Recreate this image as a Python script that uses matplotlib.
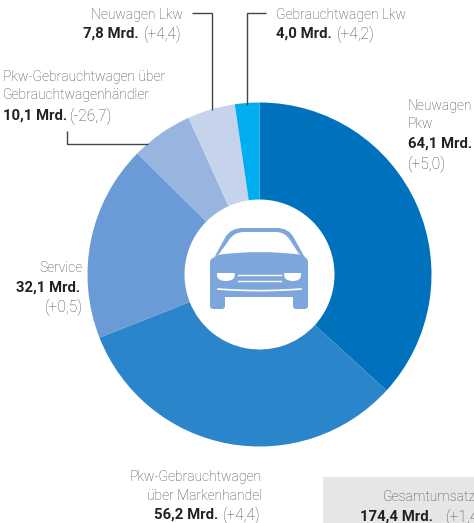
import matplotlib
matplotlib.use("Agg")
import matplotlib.pyplot as plt
from matplotlib.patches import PathPatch, Rectangle
from matplotlib.path import Path

categories = ["Neuwagen Pkw", "Pkw-Gebrauchtwagen über Markenhandel", "Service",
              "Pkw-Gebrauchtwagen über Gebrauchtwagenhändler", "Neuwagen Lkw", "Gebrauchtwagen Lkw"]
values = [64.1, 56.2, 32.1, 10.1, 7.8, 4.0]
colors = ["#0071BC", "#2B85CB", "#6A9BD6", "#97B5DE", "#C5D3EC", "#00AEEF"]

W, H = 474, 523
fig = plt.figure(figsize=(W/100, H/100), dpi=100, facecolor="white")

cx, cy, R, r = 259.5, 274.5, 172, 75
pa = fig.add_axes([(cx-R)/W, 1-(cy+R)/H, 2*R/W, 2*R/H])
pa.pie(values, colors=colors, startangle=90, counterclock=False, radius=1,
       wedgeprops=dict(width=1-r/R, linewidth=0))
pa.set_xlim(-1, 1); pa.set_ylim(-1, 1); pa.axis("off")

ax = fig.add_axes([0, 0, 1, 1], facecolor="none")
ax.set_xlim(0, W); ax.set_ylim(H, 0); ax.axis("off")

FONT = "Roboto"
GREY, DARK, LINE = "#4a4a4a", "#222222", "#444444"
FS = 10.0

def light(x, y, s, ha="left", size=FS):
    ax.text(x, y, s, ha=ha, va="center", family=FONT, weight="light", fontsize=size, color=GREY, clip_on=True)
def paren(x, y, s, ha="left"):
    light(x, y, s, ha, size=FS+1.2)
def bold(x, y, s, ha="left"):
    ax.text(x, y, s, ha=ha, va="center", family=FONT, weight="bold", fontsize=FS+0.7, color=DARK, clip_on=True)

light(183, 15, "Neuwagen Lkw", "right")
bold(139, 34, "7,8 Mrd.", "right"); paren(182, 34, "(+4,4)", "right")
light(276, 15, "Gebrauchtwagen Lkw")
bold(276, 34, "4,0 Mrd."); paren(337, 34, "(+4,2)")
light(3, 77, "Pkw-Gebrauchtwagen über")
light(3, 95, "Gebrauchtwagenhändler")
bold(3, 116, "10,1 Mrd."); paren(70, 116, "(-26,7)")
light(408, 106, "Neuwagen")
light(408, 124, "Pkw")
bold(408, 144, "64,1 Mrd.")
paren(408, 164, "(+5,0)")
light(83, 268, "Service", "right")
bold(80, 288, "32,1 Mrd.", "right")
paren(83, 307, "(+0,5)", "right")
light(262, 477, "Pkw-Gebrauchtwagen", "right")
light(262, 496, "über Markenhandel", "right")
bold(218, 515, "56,2 Mrd.", "right"); paren(261, 515, "(+4,4)", "right")

ax.add_patch(Rectangle((323, 477), 151, 46, fc="#E5E6E8", ec="none", zorder=0))
light(383, 497, "Gesamtumsatz")
bold(360, 517, "174,4 Mrd."); paren(446, 517, "(+1,4)")

for xs, ys in [((192, 212, 212), (13, 13, 110)),
               ((266, 247, 247), (13, 13, 105)),
               ((67, 67, 148), (131, 144, 144))]:
    ax.plot(xs, ys, color=LINE, lw=1, solid_capstyle="butt", solid_joinstyle="miter", zorder=1)

# Car icon (pixel outline, in figure coordinates)
ICON = "#7DA7DA"
M, L, C, Z = Path.MOVETO, Path.LINETO, Path.CURVE3, Path.CLOSEPOLY
def patch(seq, fc, z=5):
    codes = [s[0] for s in seq]; verts = [s[1] for s in seq]
    ax.add_patch(PathPatch(Path(verts, codes), fc=fc, ec="none", zorder=z))

patch([(M,(210,262)),(C,(210,259)),(C,(213,258)),(L,(217,255)),(C,(260,249)),(C,(303,255)),(L,(306,258)),
       (C,(308,259)),(C,(308,262)),(L,(308,306)),(C,(308,309)),(C,(305,309)),(L,(296,309)),(C,(293,309)),
       (C,(293,306)),(L,(293,297)),(L,(225,297)),(L,(225,306)),(C,(225,309)),(C,(222,309)),(L,(213,309)),
       (C,(210,309)),(C,(210,306)),(L,(210,262)),(Z,(210,262))], ICON)
# roof ring
patch([(M,(215,256)),(L,(225,238)),(C,(230,228)),(C,(243,228)),(L,(277,228)),(C,(289,228)),(C,(294,238)),
       (L,(304,256)),(L,(299,254)),(L,(290,240)),(C,(285,232)),(C,(276,232)),(L,(244,232)),(C,(234,232)),
       (C,(229,240)),(L,(219,254)),(Z,(215,256))], ICON)
# headlights
patch([(M,(217,273)),(L,(234,273)),(C,(236,273)),(C,(234,278)),(C,(232,281)),(C,(226,281)),(C,(218,281)),
       (C,(217,276)),(Z,(217,273))], "white", 6)
patch([(M,(301,273)),(L,(285,273)),(C,(283,273)),(C,(285,278)),(C,(287,281)),(C,(293,281)),(C,(300,281)),
       (C,(301,276)),(Z,(301,273))], "white", 6)
# grille and bumper
ax.plot([238, 281], [275, 275], color="white", lw=1.0, zorder=6)
ax.plot([238, 281], [281, 281], color="white", lw=1.0, zorder=6)
t = [i/20 for i in range(21)]
ax.plot([218+(301-218)*u for u in t], [289+1.6*(4*u*(1-u)) for u in t], color="white", lw=1.2, zorder=6)

fig.savefig("out.png", dpi=100)
